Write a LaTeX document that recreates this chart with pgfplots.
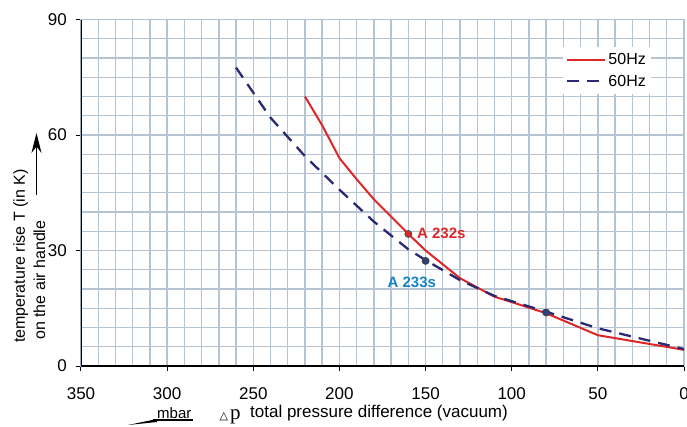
\documentclass[border=0pt]{standalone}
\usepackage{pgfplots}
\pgfplotsset{compat=1.18}
\usepackage{fontspec}
\setmainfont{Liberation Sans}
\newfontfamily\symfont{DejaVu Sans}
\newfontfamily\seriffont{Liberation Serif}
\usetikzlibrary{arrows.meta}
\definecolor{cred}{RGB}{222,38,38}
\definecolor{cnavy}{RGB}{42,42,115}
\definecolor{cblue}{RGB}{20,130,200}
\definecolor{cgrid}{RGB}{182,195,210}
\definecolor{cmark}{RGB}{45,65,125}
\begin{document}
\begin{tikzpicture}[x=1pt,y=1pt]
\begin{axis}[
  at={(0,0)}, anchor=south west,
  scale only axis, width=603pt, height=346.5pt,
  x dir=reverse, xmin=0, xmax=350, ymin=0, ymax=90,
  xtick={0,50,...,350}, ytick={0,30,60,90},
  minor xtick={10,20,30,40,60,70,80,90,110,120,130,140,160,170,180,190,210,220,230,240,260,270,280,290,310,320,330,340},
  minor ytick={5,10,15,20,25,35,40,45,50,55,65,70,75,80,85},
  grid=both,
  grid style={cgrid, line width=1.4pt},
  minor grid style={cgrid, line width=1.4pt},
  axis line style={cgrid, line width=1.4pt},
  xtick pos=bottom, ytick pos=left,
  tick align=outside, major tick length=5pt, minor tick length=0pt,
  major tick style={black, line width=1pt},
  /pgf/number format/assume math mode=true,
  xticklabel style={font=\fontsize{17}{17}\selectfont, anchor=base, inner sep=0pt, yshift=-28pt},
  yticklabel style={font=\fontsize{17}{17}\selectfont, anchor=east, inner sep=0pt, xshift=-9pt},
  legend style={at={(0.7993,0.9206)}, anchor=north west, draw=none, fill=white,
    inner xsep=3pt, inner ysep=4pt, font=\fontsize{16}{16}\selectfont,
    row sep=5pt},
  legend cell align=left,
  legend image code/.code={\draw[#1] (0pt,0pt) -- (38pt,0pt);},
]
\addplot[cred, line width=2pt] coordinates {
 (220,70) (210,62.5) (200,54) (190,48.5) (180,43.3) (160,34.3) (150,30) (130,22.8)
 (110,18) (100,16.6) (80,13.7) (50,8) (0,4.2)};
\addlegendentry{50Hz}
\addplot[cnavy, line width=2.3pt, dash pattern=on 12pt off 8pt] coordinates {
 (260,77.5) (240,64.5) (220,54.5) (200,45.8) (180,37.5) (160,30.3) (150,27.5)
 (130,22.3) (110,18.2) (80,14.1) (50,9.8) (0,4.4)};
\addlegendentry{60Hz}
\addplot[only marks, mark=*, mark size=3.5pt, mark options={fill=cred, draw=black!70, line width=0.8pt}, forget plot]
 coordinates {(160,34.3)};
\addplot[only marks, mark=*, mark size=3.5pt, mark options={fill=cmark, draw=black!75, line width=0.8pt}, forget plot]
 coordinates {(150,27.3) (80,13.9)};
\draw[black, line width=1.2pt] (axis cs:350,0) -- (axis cs:350,90);
\draw[black, line width=1.2pt] (axis cs:350,0) -- (axis cs:0,0);
\node[anchor=west, inner sep=0pt, text=cred, font=\bfseries\fontsize{15}{15}\selectfont] at (axis cs:155,34.5) {A 232s};
\node[anchor=center, inner sep=0pt, text=cblue, font=\bfseries\fontsize{15}{15}\selectfont] at (axis cs:158,21.6) {A 233s};
\end{axis}
% y label
\node[rotate=90, anchor=base west, inner sep=0pt, font=\fontsize{16}{16}\selectfont] at (-56,23) {temperature rise T (in K)};
\node[rotate=90, anchor=base west, inner sep=0pt, font=\fontsize{16}{16}\selectfont] at (-36,26) {on the air handle};
\draw[line width=1.6pt, -{Stealth[length=20pt, width=10pt]}] (-44.5,171) -- (-44.5,233);
% x label
\node[anchor=base west, inner sep=0pt, font=\fontsize{17}{17}\selectfont] at (169,-51) {total pressure difference (vacuum)};
\node[anchor=base west, inner sep=0pt, font=\symfont\fontsize{11}{11}\selectfont] at (138.5,-53) {△};
\node[anchor=base west, inner sep=0pt, font=\seriffont\fontsize{21}{21}\selectfont] at (149,-53.5) {p};
\node[anchor=base west, inner sep=0pt, font=\fontsize{15}{15}\selectfont] at (76,-52) {mbar};
\draw[line width=1.1pt] (112,-54) -- (72,-54);
\fill (47,-59) -- (76,-53) -- (76,-56) -- cycle;
\pgfresetboundingbox
\path[use as bounding box] (-81,-60) rectangle (606,366);
\end{tikzpicture}
\end{document}
